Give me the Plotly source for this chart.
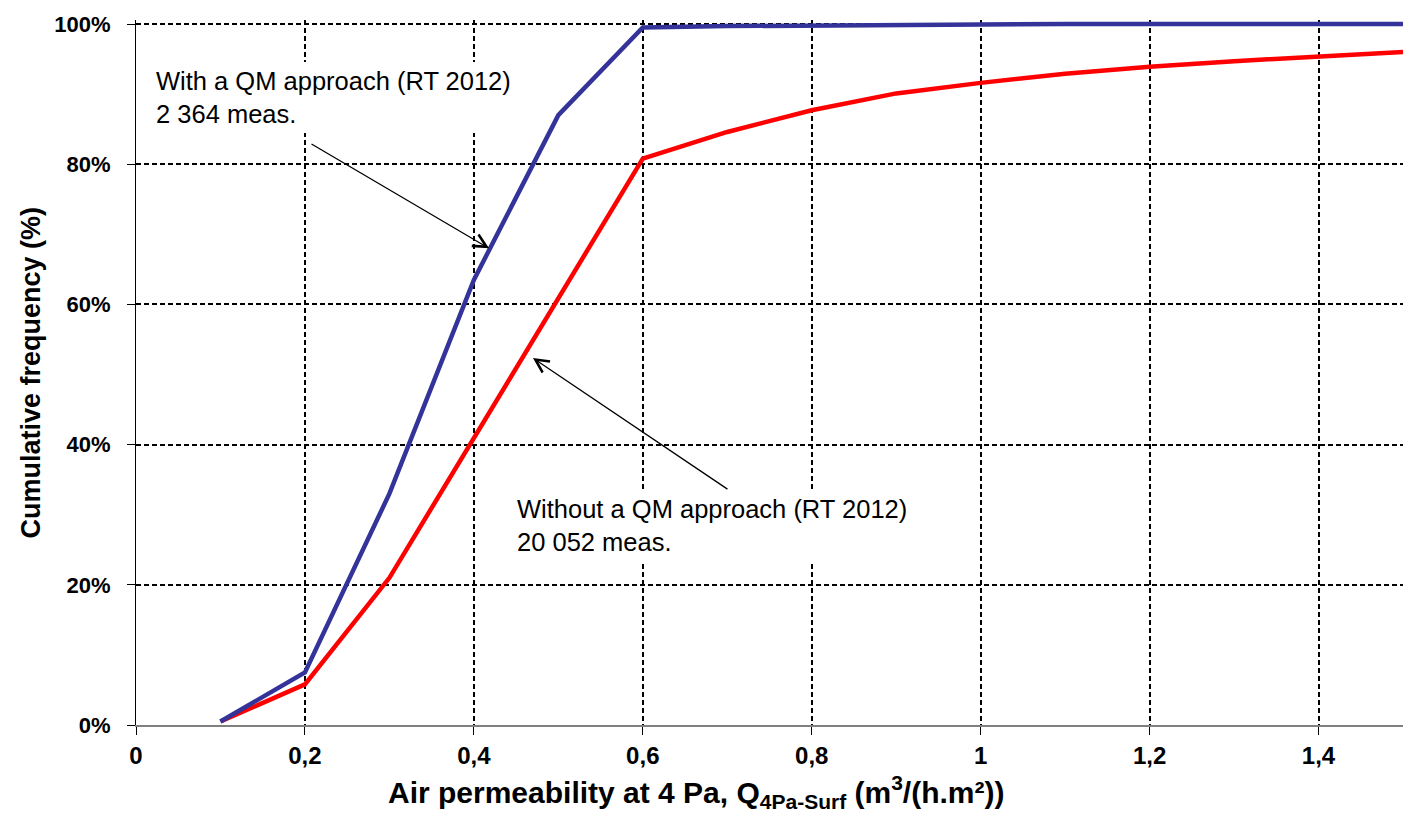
import plotly.graph_objects as go

# Data
x_qm = [0.1, 0.2, 0.3, 0.4, 0.5, 0.6, 0.7, 0.8, 0.9, 1.0, 1.1, 1.2, 1.3, 1.4, 1.5]
y_qm = [0.005, 0.075, 0.33, 0.635, 0.87, 0.995, 0.997, 0.998, 0.999, 1.0, 1.0, 1.0, 1.0, 1.0, 1.0]

x_noqm = [0.1, 0.2, 0.3, 0.4, 0.5, 0.6, 0.7, 0.8, 0.9, 1.0, 1.1, 1.2, 1.3, 1.4, 1.5]
y_noqm = [0.005, 0.058, 0.21, 0.41, 0.61, 0.808, 0.846, 0.877, 0.901, 0.916, 0.929, 0.939, 0.947, 0.954, 0.960]

x_ticks = [0, 0.2, 0.4, 0.6, 0.8, 1.0, 1.2, 1.4]
x_ticklabels = ["0", "0,2", "0,4", "0,6", "0,8", "1", "1,2", "1,4"]
y_ticks = [0, 0.2, 0.4, 0.6, 0.8, 1.0]
y_ticklabels = ["0%", "20%", "40%", "60%", "80%", "100%"]

label_qm = "With a QM approach (RT 2012)<br>2 364 meas."
label_noqm = "Without a QM approach (RT 2012)<br>20 052 meas."
x_title = "Air permeability at 4 Pa, Q<sub>4Pa-Surf</sub> (m<sup>3</sup>/(h.m²))"
y_title = "Cumulative frequency (%)"

FONT = "Liberation Sans, Arial, sans-serif"

fig = go.Figure()
fig.add_trace(go.Scatter(x=x_noqm, y=y_noqm, mode="lines",
                         line=dict(color="#FF0000", width=4.5), showlegend=False))
fig.add_trace(go.Scatter(x=x_qm, y=y_qm, mode="lines",
                         line=dict(color="#333399", width=4.5), showlegend=False))

fig.update_layout(
    width=1409, height=815,
    margin=dict(l=136, r=6, t=20, b=90),
    plot_bgcolor="white", paper_bgcolor="white",
    font=dict(family=FONT, color="black"),
    showlegend=False,
)

fig.update_xaxes(
    range=[0, 1.5], tickvals=x_ticks, ticktext=x_ticklabels,
    showgrid=True, gridcolor="black", gridwidth=1.6, griddash="5px,3px",
    showline=True, linecolor="#808080", linewidth=1.5,
    ticks="outside", ticklen=8, tickcolor="black", tickwidth=1,
    tickfont=dict(family=FONT, size=24, color="black", weight="bold"),
    ticklabelstandoff=0, zeroline=False,
)
fig.update_yaxes(
    range=[0, 1.0057], tickvals=y_ticks, ticktext=y_ticklabels,
    showgrid=True, gridcolor="black", gridwidth=1.6, griddash="5px,3px",
    showline=True, linecolor="black", linewidth=1.2,
    ticks="outside", ticklen=8, tickcolor="black", tickwidth=1,
    tickfont=dict(family=FONT, size=22, color="black", weight="bold"),
    ticklabelstandoff=12, zeroline=False,
)

# Arrows
fig.add_annotation(x=0.418, y=0.680, ax=0.206, ay=0.830, xref="x", yref="y",
                   axref="x", ayref="y", text="", showarrow=True,
                   arrowhead=5, arrowsize=2.0, arrowwidth=1.3, arrowcolor="black")
fig.add_annotation(x=0.470, y=0.5235, ax=0.702, ay=0.335, xref="x", yref="y",
                   axref="x", ayref="y", text="", showarrow=True,
                   arrowhead=5, arrowsize=2.0, arrowwidth=1.3, arrowcolor="black")

# Text labels with white background (break the gridlines)
fig.add_annotation(x=0.0178, y=0.9458, xref="x", yref="y", xanchor="left", yanchor="top",
                   text=label_qm, showarrow=False, align="left",
                   font=dict(family=FONT, size=25.5, color="black"),
                   bgcolor="white", borderpad=5, borderwidth=0)
fig.add_annotation(x=0.445, y=0.335, xref="x", yref="y", xanchor="left", yanchor="top",
                   text=label_noqm, showarrow=False, align="left",
                   font=dict(family=FONT, size=25.5, color="black"),
                   bgcolor="white", borderpad=5, borderwidth=0)

# Axis titles
fig.add_annotation(x=0.664, y=-0.062, xref="x", yref="paper", xanchor="center", yanchor="top",
                   text=x_title, showarrow=False,
                   font=dict(family=FONT, size=30, color="black", weight="bold"))
fig.add_annotation(x=0, y=0.5, xref="paper", yref="paper", xanchor="center", yanchor="middle",
                   xshift=-106, textangle=-90, text=y_title, showarrow=False,
                   font=dict(family=FONT, size=27, color="black", weight="bold"))

fig.write_html("out.html")
